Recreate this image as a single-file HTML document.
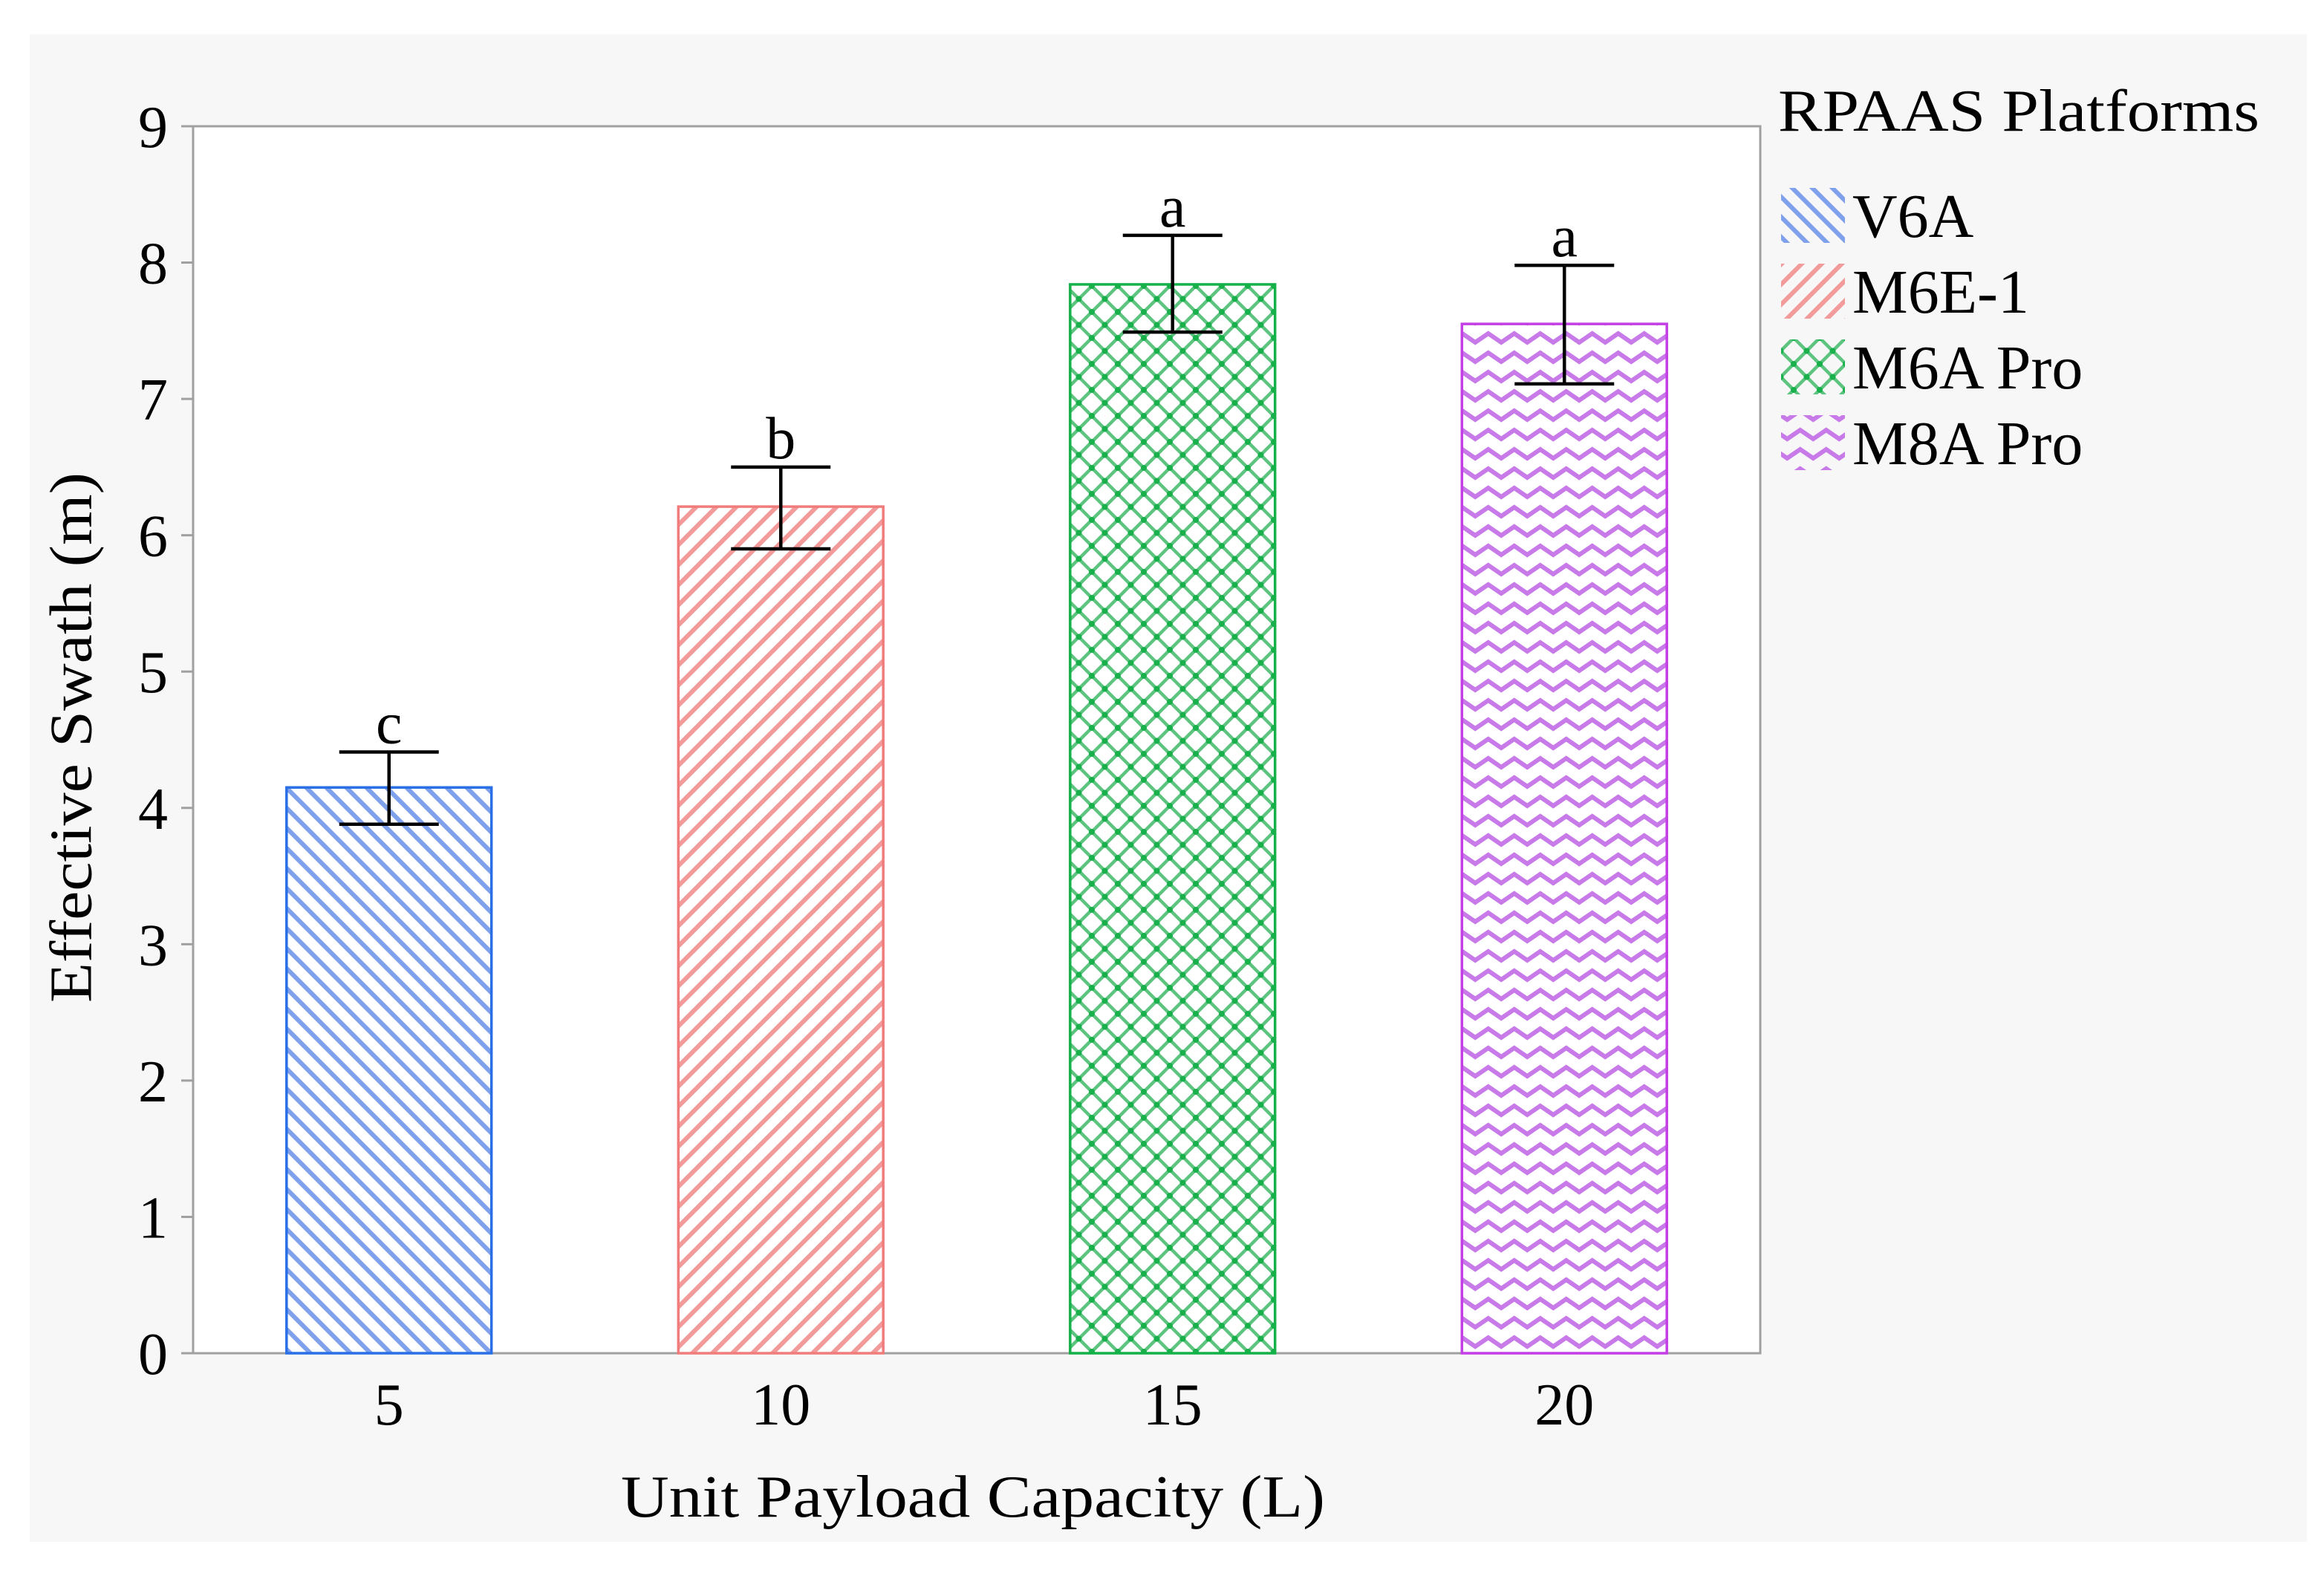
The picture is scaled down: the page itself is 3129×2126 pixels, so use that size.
<!DOCTYPE html>
<html><head><meta charset="utf-8">
<style>
html,body{margin:0;padding:0;background:#fff;}
svg{display:block;font-family:"Liberation Serif",serif;}
</style></head>
<body>
<svg id="chart" width="3129" height="2126" viewBox="0 0 3129 2126" xmlns="http://www.w3.org/2000/svg">
<defs>
<pattern id="pBlue" width="27" height="27" patternUnits="userSpaceOnUse">
<path d="M-7,-7 L34,34 M-7,20 L7,34 M20,-7 L34,7" stroke="#7fa0ea" stroke-width="6"/>
</pattern>
<pattern id="pRed" width="27" height="27" patternUnits="userSpaceOnUse">
<path d="M-7,34 L34,-7 M-7,7 L7,-7 M20,34 L34,20" stroke="#f39a9a" stroke-width="6"/>
</pattern>
<pattern id="pGreen" width="35" height="35" patternUnits="userSpaceOnUse">
<path d="M-5,-5 L40,40 M-5,40 L40,-5 M12.5,-22.5 L57.5,22.5 M-22.5,12.5 L22.5,57.5 M-22.5,22.5 L22.5,-22.5 M12.5,57.5 L57.5,12.5" stroke="#5cc47f" stroke-width="4.5"/>
<circle cx="0" cy="0" r="4" fill="#17b04a"/><circle cx="35" cy="0" r="4" fill="#17b04a"/><circle cx="0" cy="35" r="4" fill="#17b04a"/><circle cx="35" cy="35" r="4" fill="#17b04a"/><circle cx="17.5" cy="17.5" r="4" fill="#17b04a"/>
</pattern>
<pattern id="pPurple" width="35" height="26" patternUnits="userSpaceOnUse">
<path d="M-8.75,19 L8.75,7 L26.25,19 L43.75,7" stroke="#c77ae8" stroke-width="6" fill="none"/>
</pattern>
</defs>
<rect x="40" y="46" width="3066" height="2030" fill="#f7f7f7"/>
<rect x="260" y="170" width="2110" height="1652" fill="#fff" stroke="#a0a0a0" stroke-width="3"/>
<g id="yaxis"></g>
<g id="xaxis"></g>
<g id="bars"></g>
<text x="104" y="993" font-size="80" text-anchor="middle" dominant-baseline="middle" textLength="714" lengthAdjust="spacingAndGlyphs" transform="rotate(-90 104 993)">Effective Swath (m)</text>
<text x="1310" y="2042" font-size="80" text-anchor="middle" textLength="948" lengthAdjust="spacingAndGlyphs">Unit Payload Capacity (L)</text>
<g id="legend">
<text x="2394" y="176" font-size="80" textLength="648" lengthAdjust="spacingAndGlyphs">RPAAS Platforms</text>
</g>
</svg>
<script>
const categories = ["5","10","15","20"];
const seriesNames = ["V6A","M6E-1","M6A Pro","M8A Pro"];
const values = [4.15, 6.21, 7.84, 7.55];
const errUpper = [4.41, 6.50, 8.20, 7.98];
const errLower = [3.88, 5.90, 7.49, 7.11];
const letters = ["c","b","a","a"];
const yTicks = [0,1,2,3,4,5,6,7,8,9];

const NS = "http://www.w3.org/2000/svg";
const L = 260, R = 2370, T = 170, B = 1822, YMAX = 9;
const fills = ["url(#pBlue)","url(#pRed)","url(#pGreen)","url(#pPurple)"];
const strokes = ["#2a6fe6","#f07c7c","#14b048","#c43ee6"];
function y(v){ return B - (v / YMAX) * (B - T); }
const band = (R - L) / categories.length;
function xc(i){ return L + band * (i + 0.5); }
const bw = band * 0.523;
function mk(tag, attrs, parent){ const e = document.createElementNS(NS, tag); for (const k in attrs) e.setAttribute(k, attrs[k]); parent.appendChild(e); return e; }

const ya = document.getElementById('yaxis');
yTicks.forEach(t => {
  const tk = mk('line', {x1: L - 16, x2: L, y1: y(t), y2: y(t), stroke: '#a0a0a0', 'stroke-width': 3}, ya);
  
  
  const tx = mk('text', {x: 226, y: y(t) + 28, 'font-size': 80, 'text-anchor': 'end'}, ya);
  tx.textContent = t;
  
  
});

const xa = document.getElementById('xaxis');
const bars = document.getElementById('bars');
categories.forEach((c, i) => {
  const tx = mk('text', {x: xc(i), y: 1918, 'font-size': 80, 'text-anchor': 'middle'}, xa);
  tx.textContent = c;
  
  

  const r = mk('rect', {x: xc(i) - bw / 2, y: y(values[i]), width: bw, height: B - y(values[i]), fill: fills[i], stroke: strokes[i], 'stroke-width': 3.5}, bars);
  
  

  const g = mk('g', {stroke: '#000', 'stroke-width': 4.5}, bars);
  
  
  mk('line', {x1: xc(i), x2: xc(i), y1: y(errUpper[i]), y2: y(errLower[i])}, g);
  mk('line', {x1: xc(i) - 67, x2: xc(i) + 67, y1: y(errUpper[i]), y2: y(errUpper[i])}, g);
  mk('line', {x1: xc(i) - 67, x2: xc(i) + 67, y1: y(errLower[i]), y2: y(errLower[i])}, g);

  const lt = mk('text', {x: xc(i), y: y(errUpper[i]) - 12, 'font-size': 80, 'text-anchor': 'middle'}, bars);
  lt.textContent = letters[i];
  
  
});

const lg = document.getElementById('legend');
seriesNames.forEach((n, i) => {
  const cy = 290 + i * 102;
  const g = mk('g', {}, lg);
  
  
  const sw = mk('rect', {x: 2398, y: cy - 37, width: 86, height: 74, fill: fills[i]}, g);
  
  
  const t = mk('text', {x: 2494, y: cy + 29, 'font-size': 84}, g);
  t.textContent = n;
  
  
});
</script>
</body></html>
